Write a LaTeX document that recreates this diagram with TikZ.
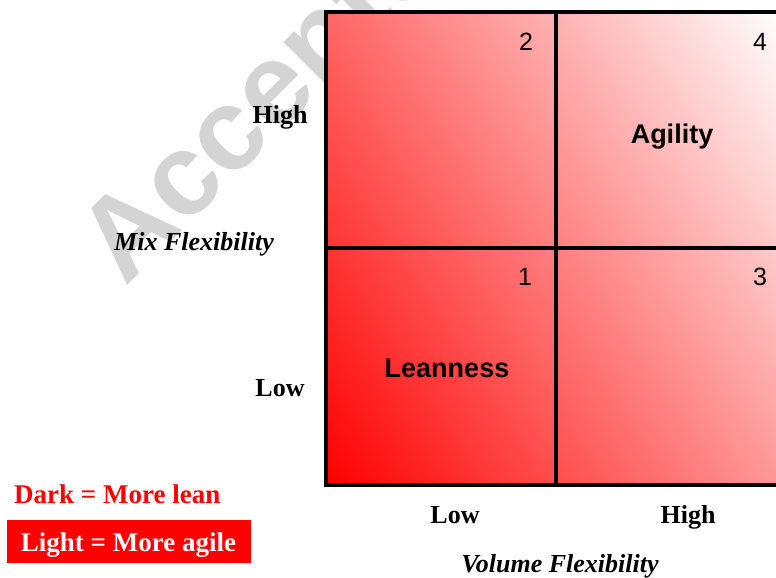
\documentclass[tikz,border=0pt]{standalone}
\usepackage{fontspec}
\setmainfont{Liberation Serif}
\newfontfamily\arialf{Liberation Sans}
\usetikzlibrary{shadings}
\pgfdeclarehorizontalshading{leanagile}{100bp}{color(0bp)=(red); color(15.4bp)=(red); color(84.6bp)=(white); color(100bp)=(white)}
\tikzset{
  lbl/.style={inner sep=0pt, anchor=base, font=\fontsize{26bp}{30bp}\selectfont\bfseries},
  axlbl/.style={inner sep=0pt, anchor=base, font=\fontsize{26bp}{30bp}\selectfont\bfseries\itshape},
  cellname/.style={inner sep=0pt, anchor=base, font=\arialf\fontsize{27bp}{31bp}\selectfont\bfseries},
  cellnum/.style={inner sep=0pt, anchor=base, font=\arialf\fontsize{25bp}{29bp}\selectfont},
  legend/.style={inner sep=0pt, anchor=base, font=\fontsize{27bp}{31bp}\selectfont\bfseries},
  gridline/.style={line width=4.5bp, black},
  wmark/.style={inner sep=0pt, anchor=base west, rotate=45, text=black!17, font=\arialf\fontsize{116bp}{130bp}\selectfont\bfseries}
}
\begin{document}
\begin{tikzpicture}[x=1bp,y=-1bp]
\useasboundingbox (0,0) rectangle (776,578);
% watermark
\node[wmark] (wm) at (125,288) {Accepted};
% grid
\shade[shading=leanagile, shading angle=33] (326,12) rectangle (786,485);
\draw[gridline] (326,12) rectangle (786,485);
\draw[gridline] (556,12) -- (556,485);
\draw[gridline] (326,248) -- (786,248);
% cell contents
\node[cellnum] (n2) at (526,51) {2};
\node[cellnum] (n4) at (760,51) {4};
\node[cellnum] (n1) at (525,285) {1};
\node[cellnum] (n3) at (760,285) {3};
\node[cellname] (agility) at (672,143.5) {Agility};
\node[cellname] (lean) at (447,377.5) {Leanness};
% axis labels
\node[lbl] (yhigh) at (280,123.5) {High};
\node[axlbl] (ylab) at (194,250.7) {Mix Flexibility};
\node[lbl] (ylow) at (280,396) {Low};
\node[lbl] (xlow) at (455,523) {Low};
\node[lbl] (xhigh) at (688,523) {High};
\node[axlbl] (xlab) at (560,572.5) {Volume Flexibility};
% legend
\node[legend, anchor=base west, text=red] (dark) at (14,503) {Dark = More lean};
\fill[red] (7,520) rectangle (251,563);
\node[legend, text=white] (light) at (128.5,551) {Light = More agile};
\end{tikzpicture}
\end{document}
